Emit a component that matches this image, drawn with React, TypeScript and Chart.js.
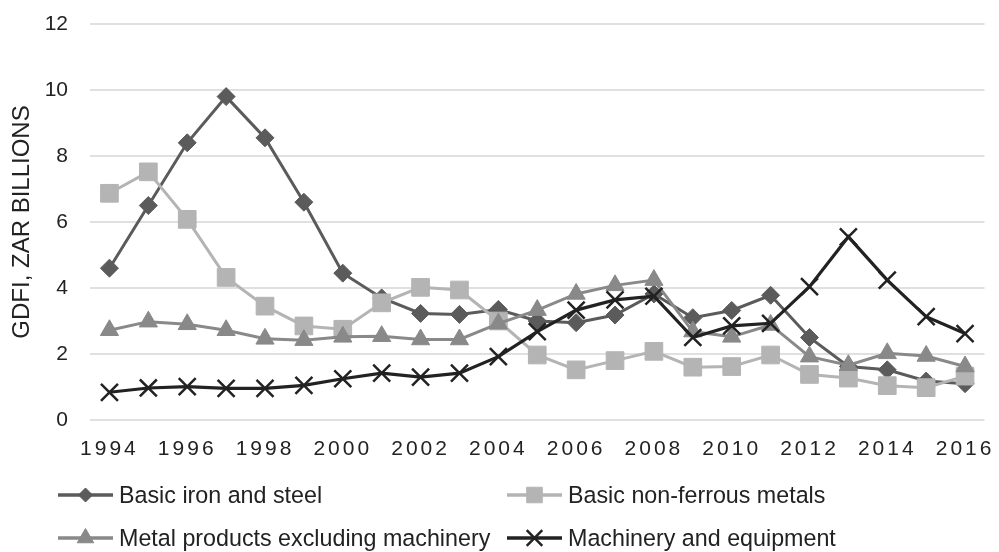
import React, { useEffect, useRef } from 'react';
import { Chart, registerables } from 'chart.js';
import { drawPoint } from 'chart.js/helpers';

Chart.register(...registerables);

const years = ['1994', '1995', '1996', '1997', '1998', '1999', '2000', '2001', '2002', '2003', '2004', '2005', '2006', '2007', '2008', '2009', '2010', '2011', '2012', '2013', '2014', '2015', '2016'];

const ironSteel = [4.6, 6.5, 8.4, 9.8, 8.55, 6.6, 4.45, 3.7, 3.23, 3.2, 3.35, 3.0, 2.95, 3.18, 3.82, 3.1, 3.32, 3.78, 2.5, 1.62, 1.52, 1.18, 1.1];
const nonFerrous = [6.87, 7.52, 6.08, 4.32, 3.45, 2.85, 2.75, 3.55, 4.02, 3.94, 3.0, 1.97, 1.52, 1.8, 2.08, 1.6, 1.62, 1.97, 1.38, 1.27, 1.04, 0.98, 1.33];
const metalProducts = [2.72, 2.98, 2.9, 2.72, 2.46, 2.42, 2.52, 2.54, 2.44, 2.44, 2.92, 3.33, 3.82, 4.08, 4.24, 2.68, 2.52, 2.88, 1.92, 1.66, 2.02, 1.94, 1.62];
const machinery = [0.84, 0.97, 1.01, 0.96, 0.96, 1.05, 1.25, 1.42, 1.3, 1.42, 1.92, 2.68, 3.33, 3.64, 3.75, 2.5, 2.85, 2.93, 4.04, 5.55, 4.24, 3.13, 2.62];

const seriesLabels = ['Basic iron and steel', 'Basic non-ferrous metals', 'Metal products excluding machinery', 'Machinery and equipment'];
const yTitle = 'GDFI, ZAR BILLIONS';

const FONT = '"Liberation Sans", Arial, sans-serif';
const TEXT = '#222222';

const legendMarkers = [
  { style: 'rectRot', radius: 7, border: 1 },
  { style: 'rect', radius: 11, border: 1 },
  { style: 'triangle', radius: 9.5, border: 1 },
  { style: 'crossRot', radius: 11, border: 2.5 },
];

const legendPlugin = {
  id: 'gridLegend',
  afterDraw(chart: any) {
    const ctx: CanvasRenderingContext2D = chart.ctx;
    const cols = [58, 507];
    const rows = [495, 538];
    const lineLen = 55;
    chart.data.datasets.forEach((ds: any, i: number) => {
      const x0 = cols[i % 2];
      const y = rows[Math.floor(i / 2)];
      const m = legendMarkers[i];
      ctx.save();
      ctx.strokeStyle = ds.borderColor;
      ctx.lineWidth = 3.5;
      ctx.beginPath();
      ctx.moveTo(x0, y);
      ctx.lineTo(x0 + lineLen, y);
      ctx.stroke();
      ctx.fillStyle = ds.borderColor;
      ctx.strokeStyle = ds.borderColor;
      ctx.lineWidth = m.border;
      drawPoint(ctx, { pointStyle: m.style as any, radius: m.radius, rotation: 0, borderWidth: m.border } as any, x0 + lineLen / 2, y);
      ctx.restore();
      ctx.save();
      ctx.font = `24.5px ${FONT}`;
      ctx.fillStyle = TEXT;
      ctx.textBaseline = 'middle';
      ctx.textAlign = 'left';
      ctx.translate(x0 + lineLen + 6, y);
      ctx.scale(0.95, 1);
      ctx.fillText(ds.label, 0, 1);
      ctx.restore();
    });
  },
};

const spacingPlugin = {
  id: 'xLetterSpacing',
  beforeDraw(chart: any) {
    const xs: any = chart.scales.x;
    if (xs && !xs.__spaced) {
      const orig = xs.drawLabels;
      xs.drawLabels = function (area: any) {
        const ctx: any = this.ctx;
        const prev = ctx.letterSpacing;
        ctx.letterSpacing = '3px';
        orig.call(this, area);
        ctx.letterSpacing = prev || '0px';
      };
      xs.__spaced = true;
    }
  },
};

export default function App() {
  const ref = useRef<HTMLCanvasElement>(null);

  useEffect(() => {
    if (!ref.current) return;
    const mk = (label: string, data: number[], color: string, style: string, radius: number, order: number, bw: number, lw: number) => ({
      label,
      data,
      borderColor: color,
      backgroundColor: color,
      pointBackgroundColor: color,
      pointBorderColor: color,
      pointStyle: style,
      pointRadius: radius,
      pointBorderWidth: bw,
      borderWidth: lw,
      tension: 0,
      order,
    });
    const chart = new Chart(ref.current, {
      type: 'line',
      data: {
        labels: years,
        datasets: [
          mk(seriesLabels[0], ironSteel, '#5b5b5b', 'rectRot', 9, 4, 1, 3),
          mk(seriesLabels[1], nonFerrous, '#b4b4b4', 'rect', 12.5, 3, 1, 3),
          mk(seriesLabels[2], metalProducts, '#898989', 'triangle', 10.5, 2, 1, 3),
          mk(seriesLabels[3], machinery, '#222222', 'crossRot', 12, 1, 2.5, 3.2),
        ] as any,
      },
      options: {
        animation: false,
        responsive: true,
        maintainAspectRatio: false,
        layout: { padding: { top: 24, right: 7, left: 0, bottom: 0 } },
        plugins: {
          legend: { display: false },
          tooltip: { enabled: false },
        },
        scales: {
          x: {
            offset: true,
            grid: { display: false, drawTicks: false },
            border: { display: false },
            afterFit: (s: any) => { s.height = 132; s.paddingLeft = 0; s.paddingRight = 0; s.paddingTop = 0; s.paddingBottom = 0; },
            ticks: {
              autoSkip: false,
              maxRotation: 0,
              minRotation: 0,
              padding: 17,
              color: TEXT,
              font: { family: FONT, size: 21 },
              callback: (_v: any, i: number) => (i % 2 === 0 ? years[i] : ''),
            },
          },
          y: {
            min: 0,
            max: 12,
            afterFit: (s: any) => { s.width = 90; s.paddingTop = 0; s.paddingBottom = 0; s.paddingLeft = 0; s.paddingRight = 0; },
            grid: { color: '#e0e0e0', lineWidth: 2, drawTicks: false },
            border: { display: false },
            ticks: {
              stepSize: 2,
              padding: 22,
              color: TEXT,
              font: { family: FONT, size: 21 },
            },
            title: {
              display: true,
              text: yTitle,
              color: TEXT,
              font: { family: FONT, size: 24 },
              padding: { top: 8, bottom: 0 },
            },
          },
        },
      },
      plugins: [legendPlugin, spacingPlugin],
    });
    chart.draw();
    return () => chart.destroy();
  }, []);

  return (
    <div style={{ position: 'fixed', left: 0, top: 0, width: 999, height: 552, background: '#ffffff' }}>
      <canvas ref={ref} />
    </div>
  );
}
